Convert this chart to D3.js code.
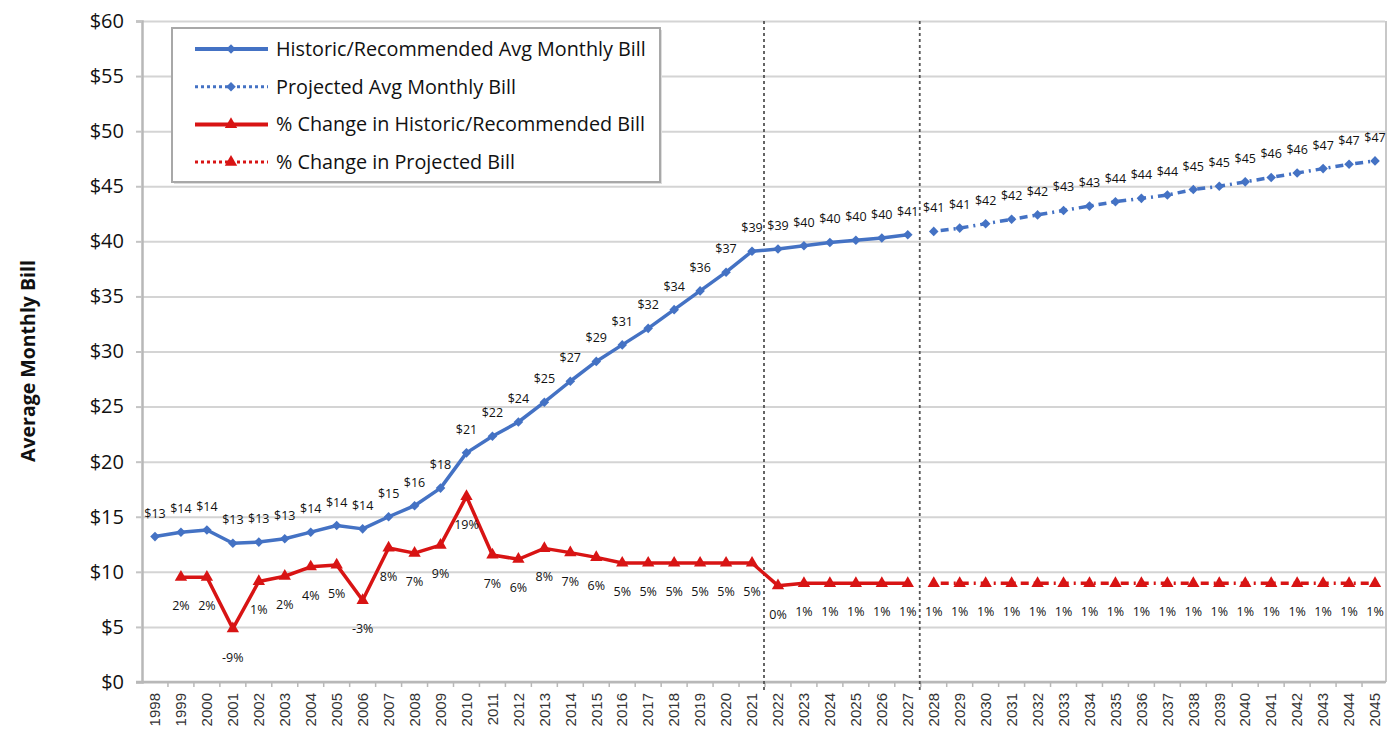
<!DOCTYPE html>
<html>
<head>
<meta charset="utf-8">
<script src="https://cdn.jsdelivr.net/npm/d3@7"></script>
<style>
  body { margin: 0; background: #fff; }
  #graf { width: 1389px; height: 733px; }
  .eje text { font-family: 'Open Sans', sans-serif; }
</style>
</head>
<body>
<div id="graf"></div>
<script>
// I. Datos
years = ['1998', '1999', '2000', '2001', '2002', '2003', '2004', '2005', '2006', '2007',
         '2008', '2009', '2010', '2011', '2012', '2013', '2014', '2015', '2016', '2017',
         '2018', '2019', '2020', '2021', '2022', '2023', '2024', '2025', '2026', '2027',
         '2028', '2029', '2030', '2031', '2032', '2033', '2034', '2035', '2036', '2037',
         '2038', '2039', '2040', '2041', '2042', '2043', '2044', '2045']

// 1998 - 2027
historicBill = [13.2, 13.6, 13.8, 12.6, 12.7, 13.0, 13.6, 14.2, 13.9, 15.0,
                16.0, 17.6, 20.8, 22.3, 23.6, 25.4, 27.3, 29.1, 30.6, 32.1,
                33.8, 35.5, 37.2, 39.1, 39.3, 39.6, 39.9, 40.1, 40.3, 40.6]
// 2028 - 2045
projectedBill = [40.9, 41.2, 41.6, 42.0, 42.4, 42.8, 43.2, 43.6, 43.9, 44.2,
                 44.7, 45.0, 45.4, 45.8, 46.2, 46.6, 47.0, 47.3]
// 1999 - 2027
historicChange = [2.2, 2.2, -8.7, 1.3, 2.4, 4.4, 4.8, -2.7, 8.4, 7.3,
                  9.0, 19.3, 6.9, 6.0, 8.3, 7.4, 6.4, 5.2, 5.2, 5.2,
                  5.2, 5.2, 5.2, 0.4, 0.9, 0.9, 0.9, 0.9, 0.9]
// 2028 - 2045
projectedChange = [0.9, 0.9, 0.9, 0.9, 0.9, 0.9, 0.9, 0.9, 0.9, 0.9,
                   0.9, 0.9, 0.9, 0.9, 0.9, 0.9, 0.9, 0.9]

yTicks = [0, 5, 10, 15, 20, 25, 30, 35, 40, 45, 50, 55, 60]
splitYears = ['2022', '2028']

legendItems = [
  { name: 'Historic/Recommended Avg Monthly Bill', color: '#4472c4', dash: null, marker: 'diamond' },
  { name: 'Projected Avg Monthly Bill', color: '#4472c4', dash: '3,3', marker: 'diamond' },
  { name: '% Change in Historic/Recommended Bill', color: '#d81414', dash: null, marker: 'triangle' },
  { name: '% Change in Projected Bill', color: '#d81414', dash: '3,3', marker: 'triangle' }
]

// II. Configuración
graf = d3.select('#graf')
ancho_total = 1389
alto_total = 733

svg = graf.append('svg')
          .attr('width', ancho_total)
          .attr('height', alto_total)

left = 142
right = 1388
top_ = 21
bottom = 682

x = d3.scaleBand()
      .domain(years)
      .range([left, right])
      .padding(0)
cx = d => x(d) + x.bandwidth() / 2

y = d3.scaleLinear()
      .domain([0, 60])
      .range([bottom, top_])

// eje secundario oculto para los porcentajes
y2 = d3.scaleLinear()
       .domain([-20, 120])
       .range([bottom, top_])

blue = '#4472c4'
red = '#d81414'

// III. Rejilla y ejes
gridCall = d3.axisLeft(y)
             .tickValues(yTicks)
             .tickSize(-(right - left - 3))
             .tickFormat('')
svg.append('g')
   .attr('transform', `translate(${ left }, 0)`)
   .call(gridCall)
   .call(g => g.select('.domain').remove())
   .selectAll('line')
     .attr('stroke', '#d4d4d4')
     .attr('stroke-width', 2)

yAxisCall = d3.axisLeft(y)
              .tickValues(yTicks)
              .tickSize(6)
              .tickPadding(12)
              .tickFormat(d => '$' + d)
yAxisGroup = svg.append('g')
                .attr('class', 'eje')
                .attr('transform', `translate(${ left }, 0)`)
                .call(yAxisCall)
yAxisGroup.select('.domain')
          .attr('stroke', '#b8b8b8')
          .attr('stroke-width', 2.5)
yAxisGroup.selectAll('line')
          .attr('stroke', '#c4c4c4')
          .attr('stroke-width', 2)
yAxisGroup.selectAll('text')
          .style('font-size', '20px')
          .attr('fill', '#111')

// borde derecho
svg.append('line')
   .attr('x1', right - 2).attr('x2', right - 2)
   .attr('y1', top_).attr('y2', bottom)
   .attr('stroke', '#c8c8c8')
   .attr('stroke-width', 2)

// eje x
svg.append('line')
   .attr('x1', left - 6).attr('x2', right - 2)
   .attr('y1', bottom).attr('y2', bottom)
   .attr('stroke', '#b8b8b8')
   .attr('stroke-width', 2.5)

svg.append('g')
   .selectAll('line')
   .data(years.slice(1))
   .enter()
   .append('line')
     .attr('x1', d => x(d)).attr('x2', d => x(d))
     .attr('y1', bottom).attr('y2', bottom + 5)
     .attr('stroke', '#b8b8b8')
     .attr('stroke-width', 1.5)

svg.append('g')
   .selectAll('text')
   .data(years)
   .enter()
   .append('text')
     .attr('transform', d => `translate(${ cx(d) }, 693) rotate(-90)`)
     .attr('text-anchor', 'end')
     .attr('dy', '0.35em')
     .style('font-family', "'Liberation Sans', Arial, sans-serif")
     .style('font-size', '15px')
     .attr('fill', '#333')
     .text(d => d)

// líneas verticales punteadas
svg.append('g')
   .selectAll('line')
   .data(splitYears)
   .enter()
   .append('line')
     .attr('x1', d => x(d) - 1).attr('x2', d => x(d) - 1)
     .attr('y1', top_).attr('y2', bottom + 8)
     .attr('stroke', '#555')
     .attr('stroke-width', 1.8)
     .attr('stroke-dasharray', '3,3')

// título del eje
svg.append('text')
   .attr('transform', 'translate(28, 361) rotate(-90)')
   .attr('text-anchor', 'middle')
   .attr('dy', '0.35em')
   .style('font-family', "'Open Sans', sans-serif")
   .style('font-size', '19.5px')
   .style('font-weight', 'bold')
   .attr('fill', '#111')
   .text('Average Monthly Bill')

// IV. Series
histBillData = historicBill.map((v, i) => ({ year: years[i], v: v }))
projBillData = projectedBill.map((v, i) => ({ year: years[30 + i], v: v }))
histChangeData = historicChange.map((v, i) => ({ year: years[1 + i], v: v }))
projChangeData = projectedChange.map((v, i) => ({ year: years[30 + i], v: v }))

diamond = d3.symbol().type(d3.symbolSquare).size(46)
triangle = d3.symbol().type(d3.symbolTriangle).size(66)

function drawSeries(data, scale, color, dash, marker) {
  line = d3.line()
           .x(d => cx(d.year))
           .y(d => scale(d.v))
  svg.append('path')
     .datum(data)
     .attr('d', line)
     .attr('fill', 'none')
     .attr('stroke', color)
     .attr('stroke-width', 3.5)
     .attr('stroke-linejoin', 'round')
     .attr('stroke-dasharray', dash)
  svg.append('g')
     .selectAll('path')
     .data(data)
     .enter()
     .append('path')
       .attr('d', marker == 'diamond' ? diamond : triangle)
       .attr('transform', d => `translate(${ cx(d.year) }, ${ scale(d.v) })` + (marker == 'diamond' ? ' rotate(45)' : ''))
       .attr('fill', color)
}

drawSeries(histBillData, y, blue, null, 'diamond')
drawSeries(projBillData, y, blue, '2,5,8,5', 'diamond')
drawSeries(histChangeData, y2, red, null, 'triangle')
drawSeries(projChangeData, y2, red, '2,5,8,5', 'triangle')

// etiquetas de datos
function drawLabels(data, scale, fmt, dy) {
  svg.append('g')
     .selectAll('text')
     .data(data)
     .enter()
     .append('text')
       .attr('x', d => cx(d.year))
       .attr('y', d => scale(d.v) + dy)
       .attr('text-anchor', 'middle')
       .style('font-family', "'Open Sans', sans-serif")
       .style('font-size', '12.5px')
       .attr('fill', '#111')
       .text(fmt)
}

billFmt = d => '$' + Math.round(d.v)
pctFmt = d => Math.round(d.v) + '%'
drawLabels(histBillData.concat(projBillData), y, billFmt, -19)
drawLabels(histChangeData.concat(projChangeData), y2, pctFmt, 33)

// V. Leyenda
legend = svg.append('g')
legend.append('rect')
      .attr('x', 174).attr('y', 30)
      .attr('width', 488).attr('height', 154)
      .attr('fill', '#ddd')
legend.append('rect')
      .attr('x', 172).attr('y', 28)
      .attr('width', 488).attr('height', 154)
      .attr('fill', '#fff')
      .attr('stroke', '#a8a8a8')
      .attr('stroke-width', 2)

rows = legend.selectAll('.fila')
             .data(legendItems)
             .enter()
             .append('g')
               .attr('class', 'fila')
               .attr('transform', (d, i) => `translate(0, ${ 49 + i * 37.7 })`)

rows.append('line')
    .attr('x1', 195).attr('x2', 268)
    .attr('stroke', d => d.color)
    .attr('stroke-width', d => d.dash ? 3 : 4)
    .attr('stroke-dasharray', d => d.dash)
rows.append('path')
    .attr('d', d => d.marker == 'diamond' ? diamond() : triangle())
    .attr('transform', d => 'translate(231, 0)' + (d.marker == 'diamond' ? ' rotate(45)' : ''))
    .attr('fill', d => d.color)
rows.append('text')
    .attr('x', 276)
    .attr('dy', '0.35em')
    .style('font-family', "'Open Sans', sans-serif")
    .style('font-size', '19.8px')
    .attr('fill', '#111')
    .text(d => d.name)
</script>
</body>
</html>
